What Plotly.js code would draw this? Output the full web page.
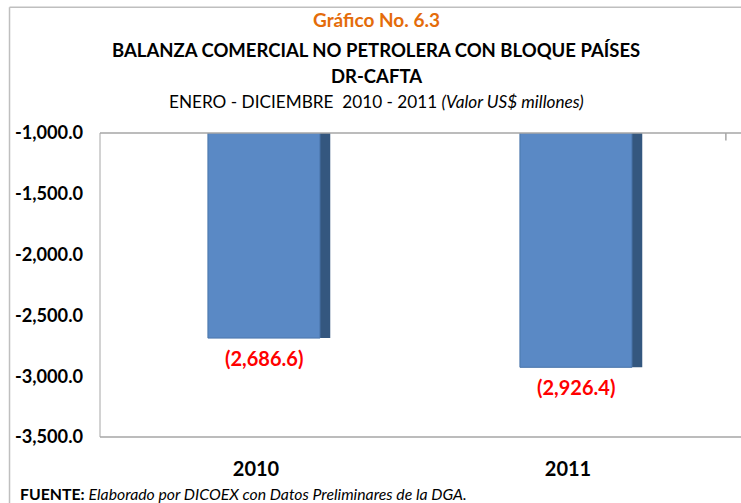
<!DOCTYPE html>
<html><head><meta charset="utf-8">
<script src="https://cdn.plot.ly/plotly-3.0.1.min.js"></script>
<style>html,body{margin:0;padding:0;background:#fff}#chart{width:741px;height:503px}</style>
</head><body><div id="chart"></div>
<script>
const categories = ['2010', '2011'];
const values = [-2686.6, -2926.4];
const valueLabels = ['(2,686.6)', '(2,926.4)'];
const tickVals = [-1000, -1500, -2000, -2500, -3000, -3500];
const tickText = ['-1,000.0', '-1,500.0', '-2,000.0', '-2,500.0', '-3,000.0', '-3,500.0'];

const F = 'Lato, "Open Sans", sans-serif';
const grey = '#A6A6A6';

const side = {
  type: 'bar', x: categories, y: values,
  width: 0.392, offset: -0.154,
  marker: {color: '#34577F', line: {width: 0}},
  hoverinfo: 'skip'
};
const front = {
  type: 'bar', x: categories, y: values,
  width: 0.359, offset: -0.154,
  marker: {color: '#5A89C5', line: {width: 1, color: '#4A76AC'}},
  hoverinfo: 'skip'
};

const cx = 0.443;
const annotations = [
  {xref:'paper', yref:'paper', x:cx, y:1.372, text:'<b>Gráfico No. 6.3</b>', showarrow:false, font:{family:F, size:19, color:'#E46C0A'}, xanchor:'center', yanchor:'middle'},
  {xref:'paper', yref:'paper', x:cx, y:1.273, text:'<b>BALANZA COMERCIAL NO PETROLERA CON BLOQUE PAÍSES</b>', showarrow:false, font:{family:F, size:18.5, color:'#000'}, xanchor:'center', yanchor:'middle'},
  {xref:'paper', yref:'paper', x:cx, y:1.1875, text:'<b>DR-CAFTA</b>', showarrow:false, font:{family:F, size:18.5, color:'#000'}, xanchor:'center', yanchor:'middle'},
  {xref:'paper', yref:'paper', x:cx, y:1.102, text:'ENERO - DICIEMBRE  2010 - 2011 <i>(Valor US$ millones)</i>', showarrow:false, font:{family:F, size:17.2, color:'#000'}, xanchor:'center', yanchor:'middle'},
  {xref:'paper', yref:'paper', x:-0.131, y:-0.187, text:'<b>FUENTE:</b> <i>Elaborado por DICOEX con Datos Preliminares de la DGA.</i>', showarrow:false, font:{family:F, size:15.8, color:'#000'}, xanchor:'left', yanchor:'middle'}
];
categories.forEach((c, i) => {
  annotations.push({x: i, y: values[i], xref:'x', yref:'y', text:'<b>' + valueLabels[i] + '</b>', showarrow:false,
    xshift: 8, yshift: -20, xanchor:'center', yanchor:'middle', font:{family:F, size:20, color:'#FF0000', weight:900}});
});

const shapes = [
  {type:'line', xref:'paper', yref:'paper', x0:-0.145, x1:-0.145, y0:1.414, y1:-0.3, line:{color:'#BFBFBF', width:1.5}},
  {type:'line', xref:'paper', yref:'paper', x0:-0.145, x1:1.03, y0:1.414, y1:1.414, line:{color:'#BFBFBF', width:1.5}},
  {type:'line', xref:'paper', yref:'paper', x0:0, x1:1.03, y0:1, y1:1, line:{color:grey, width:1.5}},
  {type:'line', xref:'paper', yref:'paper', x0:0, x1:1.03, y0:0, y1:0, line:{color:grey, width:1.5}},
  {type:'line', xref:'paper', yref:'paper', x0:0, x1:0, y0:0, y1:1, line:{color:grey, width:1}},
  {type:'line', xref:'paper', yref:'paper', x0:1.003, x1:1.003, y0:0.975, y1:1, line:{color:grey, width:1.5}}
];

const layout = {
  width: 741, height: 503,
  margin: {l: 100, r: 17, t: 133, b: 66},
  paper_bgcolor: '#fff', plot_bgcolor: '#fff',
  barmode: 'overlay', showlegend: false,
  font: {family: F},
  xaxis: {type:'category', range:[-0.5, 1.5], showgrid:false, zeroline:false, showline:false, ticks:'',
    tickfont:{family:F, size:20, color:'#000', weight:'bold'}, ticklabelstandoff: 18, fixedrange:true},
  yaxis: {range:[-3500, -1000], tickvals: tickVals, ticktext: tickText, showgrid:false, zeroline:false, showline:false, ticks:'',
    tickfont:{family:F, size:18.2, color:'#000', weight:'bold'}, ticklabelstandoff: 16, fixedrange:true},
  annotations: annotations,
  shapes: shapes
};

Plotly.newPlot('chart', [side, front], layout, {displayModeBar:false, staticPlot:true});
</script></body></html>
